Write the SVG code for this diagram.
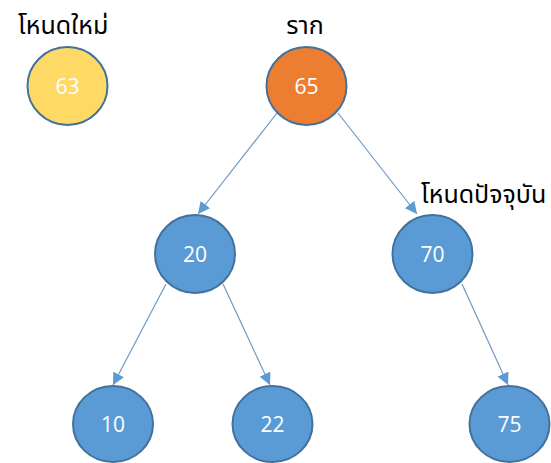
<svg xmlns="http://www.w3.org/2000/svg" width="551" height="463" viewBox="0 0 551 463">
<style>
.n{stroke:#41719C;stroke-width:2}
.blue{fill:#5B9BD5}
.t{font-family:"Open Sans","Noto Sans",sans-serif;font-size:21px;font-weight:500;fill:#fff;text-anchor:middle}
.lbl{font-family:"Noto Sans Thai","Noto Sans","DejaVu Sans",sans-serif;font-size:25px;font-weight:normal;fill:#000}
.e{stroke:#6E98C4;stroke-width:1.2;fill:none;marker-end:url(#ah)}
</style>
<defs>
<marker id="ah" viewBox="0 0 10 10" refX="10" refY="5" markerWidth="12" markerHeight="12" markerUnits="userSpaceOnUse" orient="auto">
<path d="M0,0 L10,5 L0,10 z" fill="#5B9BD5"/>
</marker>
</defs>
<rect width="551" height="463" fill="#fff"/>
<g id="connectors">
<line class="e" x1="277" y1="113" x2="198" y2="214"/>
<line class="e" x1="338" y1="113" x2="417" y2="214"/>
<line class="e" x1="166" y1="284" x2="113" y2="385"/>
<line class="e" x1="223" y1="284" x2="270" y2="385"/>
<line class="e" x1="462" y1="284" x2="508" y2="385"/>
</g>
<g id="label-new"><text class="lbl" x="18" y="34">โหนดใหม่</text></g>
<g id="label-root"><text class="lbl" x="305" y="34" text-anchor="middle">ราก</text></g>
<g id="label-current"><text class="lbl" x="421" y="203">โหนดปัจจุบัน</text></g>
<g id="n63"><ellipse class="n" cx="67.5" cy="86" rx="40" ry="39" fill="#FFD966"/><text class="t" x="67.5" y="93.5">63</text></g>
<g id="n65"><ellipse class="n" cx="306.5" cy="86" rx="40" ry="39" fill="#ED7D31"/><text class="t" x="306.5" y="93.5">65</text></g>
<g id="n20"><ellipse class="n blue" cx="195" cy="254" rx="40" ry="39"/><text class="t" x="195" y="261.5">20</text></g>
<g id="n70"><ellipse class="n blue" cx="432.5" cy="254" rx="40" ry="39"/><text class="t" x="432.5" y="261.5">70</text></g>
<g id="n10"><ellipse class="n blue" cx="113" cy="424" rx="40" ry="38"/><text class="t" x="113" y="431.5">10</text></g>
<g id="n22"><ellipse class="n blue" cx="272.5" cy="424" rx="40" ry="38"/><text class="t" x="272.5" y="431.5">22</text></g>
<g id="n75"><ellipse class="n blue" cx="509.5" cy="424" rx="40" ry="38"/><text class="t" x="509.5" y="431.5">75</text></g>
</svg>
